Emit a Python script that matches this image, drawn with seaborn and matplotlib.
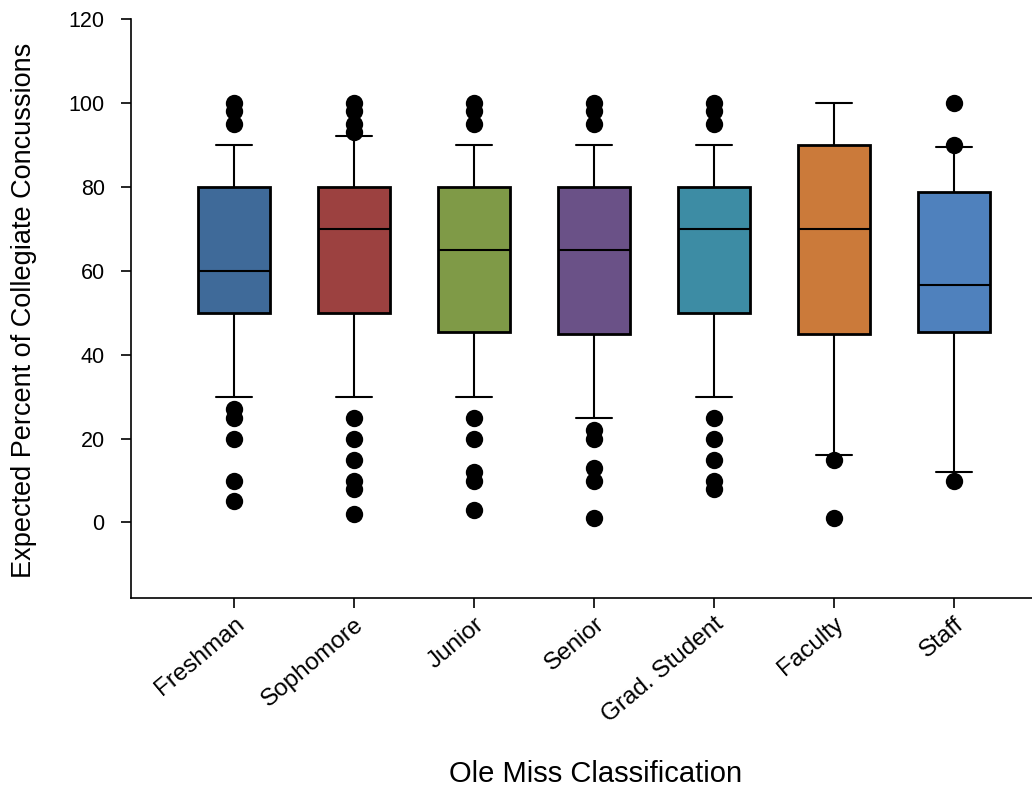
import pandas as pd
import matplotlib
matplotlib.use("Agg")
import matplotlib.pyplot as plt
import seaborn as sns

classes = ["Freshman", "Sophomore", "Junior", "Senior", "Grad. Student", "Faculty", "Staff"]
colors = ["#3F6A99", "#9C4140", "#7F9A47", "#6A5187", "#3D8CA4", "#CB7A3A", "#4F81BD"]

# five-number summaries
whis_lo = [30, 30, 30, 25, 30, 16, 12]
q1 = [50, 50, 45.5, 45, 50, 45, 45.5]
median = [60, 70, 65, 65, 70, 70, 56.5]
q3 = [80, 80, 80, 80, 80, 90, 78.7]
whis_hi = [90, 92, 90, 90, 90, 100, 89.5]

# points beyond the whiskers
outliers = {
    "Freshman": [100, 98, 95, 27, 25, 20, 10, 5],
    "Sophomore": [100, 98, 95, 93, 25, 20, 15, 10, 8, 2],
    "Junior": [100, 98, 95, 25, 20, 12, 10, 3],
    "Senior": [100, 98, 95, 22, 20, 13, 10, 1],
    "Grad. Student": [100, 98, 95, 25, 20, 15, 10, 8],
    "Faculty": [15, 1],
    "Staff": [100, 90, 10],
}

box_rows = []
for i, c in enumerate(classes):
    for v in (whis_lo[i], q1[i], median[i], q3[i], whis_hi[i]):
        box_rows.append({"group": c, "value": v})
box_df = pd.DataFrame(box_rows)

out_df = pd.DataFrame(
    [{"group": c, "value": v} for c in classes for v in outliers[c]]
)

sns.set_theme(style="ticks")
plt.rcParams["font.family"] = ["Liberation Sans", "DejaVu Sans"]
plt.rcParams.update({
    "text.color": "black", "axes.labelcolor": "black",
    "xtick.color": "black", "ytick.color": "black", "axes.edgecolor": "black",
})

fig = plt.figure(figsize=(10.32, 7.91), dpi=100)
ax = fig.add_axes([0.127, 0.244, 0.873, 0.732])

sns.boxplot(
    data=box_df, x="group", y="value", hue="group", order=classes,
    hue_order=classes, palette=colors, legend=False, saturation=1,
    width=0.6, whis=(0, 100), fliersize=0, linecolor="black",
    linewidth=1.5, ax=ax,
)
for p in ax.patches:
    p.set_linewidth(2)

sns.stripplot(
    data=out_df, x="group", y="value", order=classes, jitter=False,
    color="black", size=12.5, ax=ax,
)

ax.set_ylim(-18, 120)
ax.set_xlim(-0.86, 6.65)
ax.set_yticks(range(0, 121, 20))
ax.spines["top"].set_visible(False)
ax.spines["right"].set_visible(False)
ax.spines["left"].set_linewidth(1.2)
ax.spines["bottom"].set_linewidth(1.2)
ax.tick_params(axis="both", direction="out", length=7, width=1.2)
ax.tick_params(axis="y", labelsize=15.5, pad=12)
ax.tick_params(axis="x", labelsize=17.5, pad=4)
plt.setp(ax.get_xticklabels(), rotation=40, ha="right", rotation_mode="anchor")

ax.set_xlabel("Ole Miss Classification", fontsize=21)
ax.set_ylabel("Expected Percent of Collegiate Concussions", fontsize=19.5)
ax.xaxis.set_label_coords(0.516, -0.28)
ax.yaxis.set_label_coords(-0.104, 0.497)

fig.savefig("out.png", dpi=100)
